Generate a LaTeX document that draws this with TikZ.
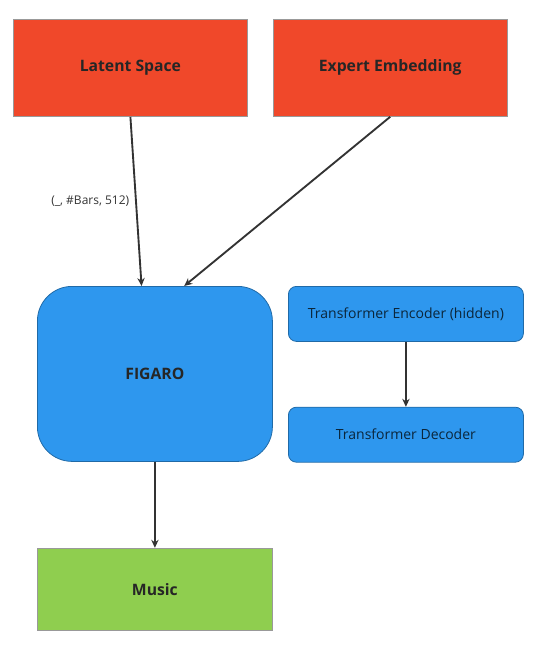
\documentclass[tikz,border=0pt]{standalone}
\usepackage{fontspec}
\setmainfont{Open Sans}
\usepackage{xcolor}
\usetikzlibrary{arrows.meta,positioning}

\definecolor{boxred}{HTML}{F0482A}
\definecolor{boxblue}{HTML}{2E97EE}
\definecolor{boxgreen}{HTML}{8FCE4F}
\definecolor{arrowgray}{HTML}{333333}

\begin{document}
\begin{tikzpicture}[x=0.75pt, y=-0.75pt, font=\fontsize{9}{10}\selectfont,
  box/.style={draw=gray!80, line width=0.6pt, align=center, minimum width=176.25pt, inner sep=0pt},
  bigbox/.style={box, minimum height=72.75pt, font=\fontsize{11.8}{13}\selectfont\bfseries, text=black!85},
  tfbox/.style={box, draw=boxblue!70!black, fill=boxblue, rounded corners=6pt, minimum height=41.25pt, font=\fontsize{10.5}{12}\selectfont, text=black!75!boxblue},
  arr/.style={-{Stealth[length=6pt, width=5.5pt]}, line width=1.4pt, draw=arrowgray}]
\useasboundingbox (0,0) rectangle (535,646);
\node[bigbox, fill=boxred, minimum width=175.5pt, anchor=north west] (latent) at (13,19) {Latent Space};
\node[bigbox, fill=boxred, minimum width=175.5pt, right=18.75pt of latent] (expert) {Expert Embedding};
\node[box, draw=boxblue!70!black, fill=boxblue, rounded corners=26pt, minimum height=131.25pt,
  font=\fontsize{11.8}{13}\selectfont\bfseries, text=black!85, anchor=north west] (figaro) at (37,286) {FIGARO};
\node[bigbox, fill=boxgreen, minimum height=61.5pt, below=64.5pt of figaro] (music) {Music};
\node[tfbox, anchor=north west] (encoder) at (288,286) {Transformer Encoder (hidden)};
\node[tfbox, below=48.75pt of encoder] (decoder) {Transformer Decoder};
\draw[arr] (latent.south) -- node[pos=0.5, left=1pt, text=black!80] {(\_, \#Bars, 512)} ([xshift=-10pt]figaro.north);
\draw[arr] (expert.south) -- ([xshift=22pt]figaro.north);
\draw[arr] (figaro) -- (music);
\draw[arr] (encoder) -- (decoder);
\end{tikzpicture}
\end{document}
